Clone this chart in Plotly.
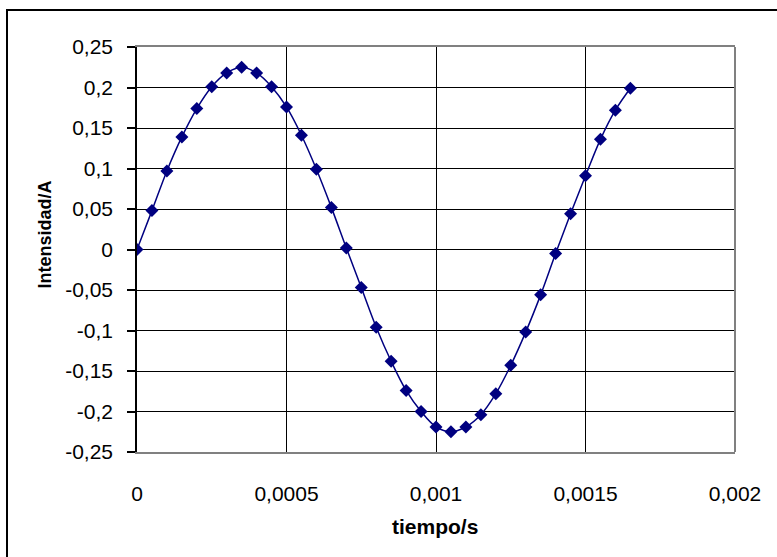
import plotly.graph_objects as go

tiempo = [i * 0.00005 for i in range(34)]
intensidad = [0, 0.048, 0.097, 0.139, 0.174, 0.201, 0.218, 0.225, 0.218, 0.201,
              0.176, 0.141, 0.099, 0.052, 0.002, -0.047, -0.096, -0.138, -0.174, -0.200,
              -0.219, -0.225, -0.219, -0.204, -0.178, -0.143, -0.102, -0.056, -0.005, 0.044,
              0.091, 0.136, 0.172, 0.199]

x_ticks = [0, 0.0005, 0.001, 0.0015, 0.002]
x_labels = ["0", "0,0005", "0,001", "0,0015", "0,002"]
y_ticks = [0.25, 0.2, 0.15, 0.1, 0.05, 0, -0.05, -0.1, -0.15, -0.2, -0.25]
y_labels = ["0,25", "0,2", "0,15", "0,1", "0,05", "0", "-0,05", "-0,1", "-0,15", "-0,2", "-0,25"]
x_title = "tiempo/s"
y_title = "Intensidad/A"

fig = go.Figure()
fig.add_trace(go.Scatter(
    x=tiempo, y=intensidad, mode="lines+markers",
    line=dict(color="#000080", width=1.5, shape="spline"),
    marker=dict(symbol="diamond", size=10, color="#000080"),
    showlegend=False, hoverinfo="skip",
))

W, H = 777, 557
L, R, T, B = 137, 735, 47, 452
pw, ph = R - L, B - T

def px(x):
    return (x - L) / pw

def py(y):
    return (B - y) / ph

FONT = "Liberation Sans, Arial, sans-serif"

fig.update_layout(
    width=W, height=H,
    margin=dict(l=L, r=W - R, t=T, b=H - B),
    paper_bgcolor="white", plot_bgcolor="white",
    font=dict(family=FONT, size=21, color="black"),
    xaxis=dict(
        range=[0, 0.002], tickvals=x_ticks, ticktext=x_labels,
        showgrid=True, gridcolor="black", gridwidth=1,
        showline=True, linecolor="#808080", linewidth=2, mirror=True,
        ticks="", zeroline=False, ticklabelstandoff=22,
    ),
    yaxis=dict(
        range=[-0.25, 0.25], tickvals=y_ticks, ticktext=y_labels,
        showgrid=True, gridcolor="black", gridwidth=1,
        showline=True, linecolor="black", linewidth=1.5, mirror=False,
        ticks="outside", ticklen=8, tickcolor="black", tickwidth=1.5, zeroline=False,
        ticklabelstandoff=10,
    ),
    annotations=[
        dict(text="<b>%s</b>" % x_title, xref="paper", yref="paper",
             x=px(435), y=py(526), xanchor="center", yanchor="middle",
             showarrow=False, font=dict(size=21, family=FONT)),
        dict(text="<b>%s</b>" % y_title, xref="paper", yref="paper",
             x=px(45), y=py(234.5), xanchor="center", yanchor="middle",
             showarrow=False, textangle=-90, font=dict(size=18, family=FONT)),
    ],
    shapes=[
        dict(type="line", xref="paper", yref="paper", x0=1, x1=1, y0=0, y1=1,
             line=dict(color="#808080", width=2)),
        dict(type="line", xref="paper", yref="paper", x0=px(6), x1=px(800), y0=py(10), y1=py(10),
             line=dict(color="black", width=2)),
        dict(type="line", xref="paper", yref="paper", x0=px(7), x1=px(7), y0=py(9), y1=py(600),
             line=dict(color="black", width=2)),
    ],
)

fig.write_html("out.html", config={"displayModeBar": False},
               post_script="document.body.style.margin='0';")
